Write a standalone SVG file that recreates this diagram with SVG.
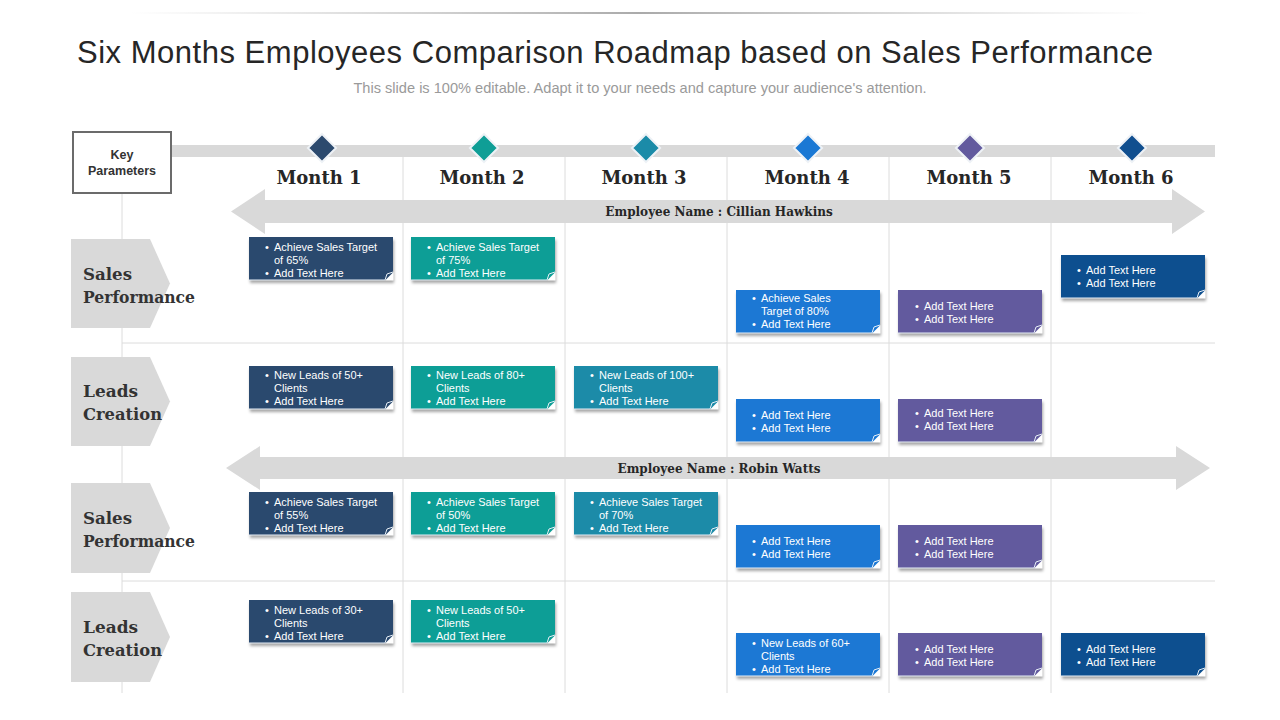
<svg xmlns="http://www.w3.org/2000/svg" width="1280" height="720" viewBox="0 0 1280 720">
<defs>
<linearGradient id="topline" x1="0" x2="1" y1="0" y2="0">
<stop offset="0" stop-color="#bbb" stop-opacity="0"/>
<stop offset="0.5" stop-color="#aaa" stop-opacity="1"/>
<stop offset="1" stop-color="#bbb" stop-opacity="0"/>
</linearGradient>
<filter id="sh" x="-10%" y="-20%" width="125%" height="160%">
<feDropShadow dx="1" dy="3" stdDeviation="1.5" flood-color="#000" flood-opacity="0.35"/>
</filter>
</defs>
<style>
.title{font-family:"Liberation Sans",Arial,sans-serif;font-size:31px;fill:#262626}
.sub{font-family:"Liberation Sans",Arial,sans-serif;font-size:14.6px;fill:#9a9a9a}
.key{font-family:"Liberation Sans",Arial,sans-serif;font-size:12.5px;font-weight:bold;fill:#333}
.month{font-family:"DejaVu Serif",serif;font-size:18px;font-weight:bold;fill:#262626}
.lab{font-family:"DejaVu Serif",serif;font-size:17.5px;font-weight:bold;fill:#333}
.emp{font-family:"DejaVu Serif",serif;font-size:12px;font-weight:bold;fill:#262626}
.bt{font-family:"Liberation Sans",Arial,sans-serif;font-size:11px;fill:#fff}
.grid{stroke:#dcdcdc;stroke-width:1;fill:none}
.gray{fill:#d9d9d9}
.box{filter:url(#sh)}
.hl{stroke:#e6eef6;stroke-width:1.2}
.fold{fill:#fff}
.curl{fill:none;stroke:#e6eef6;stroke-width:1}
.dia{stroke:#eef2f6;stroke-width:2}
</style>

<rect width="1280" height="720" fill="#fff"/>
<rect x="130" y="12" width="1020" height="2" fill="url(#topline)"/>

<text class="title" x="615" y="63" text-anchor="middle" textLength="1076" lengthAdjust="spacing">Six Months Employees Comparison Roadmap based on Sales Performance</text>
<text class="sub" x="640" y="93" text-anchor="middle">This slide is 100% editable. Adapt it to your needs and capture your audience's attention.</text>

<g id="grid">
<rect class="gray" x="171" y="145" width="1044" height="12"/>
<line class="grid" x1="122" y1="193" x2="122" y2="693"/>
<line class="grid" x1="403" y1="157" x2="403" y2="693"/>
<line class="grid" x1="565" y1="157" x2="565" y2="693"/>
<line class="grid" x1="727" y1="157" x2="727" y2="693"/>
<line class="grid" x1="889" y1="157" x2="889" y2="693"/>
<line class="grid" x1="1051" y1="157" x2="1051" y2="693"/>
<line class="grid" x1="122" y1="343" x2="1215" y2="343"/>
<line class="grid" x1="122" y1="581" x2="1215" y2="581"/>
</g>

<g id="key">
<rect x="73" y="132" width="98" height="61" fill="#fff" stroke="#6b6b6b" stroke-width="2"/>
<text class="key" x="122" y="159" text-anchor="middle">Key</text>
<text class="key" x="122" y="175" text-anchor="middle">Parameters</text>
</g>

<g id="months">
<polygon class="dia" points="322,134 336,148 322,162 308,148" fill="#2c4a6e"/>
<polygon class="dia" points="484,134 498,148 484,162 470,148" fill="#0f9e96"/>
<polygon class="dia" points="646,134 660,148 646,162 632,148" fill="#1b8ba8"/>
<polygon class="dia" points="808,134 822,148 808,162 794,148" fill="#1a78d4"/>
<polygon class="dia" points="970,134 984,148 970,162 956,148" fill="#625a9e"/>
<polygon class="dia" points="1132,134 1146,148 1132,162 1118,148" fill="#114f8f"/>
<text class="month" x="319" y="184" text-anchor="middle">Month 1</text>
<text class="month" x="482" y="184" text-anchor="middle">Month 2</text>
<text class="month" x="644" y="184" text-anchor="middle">Month 3</text>
<text class="month" x="807" y="184" text-anchor="middle">Month 4</text>
<text class="month" x="969" y="184" text-anchor="middle">Month 5</text>
<text class="month" x="1131" y="184" text-anchor="middle">Month 6</text>
</g>

<g id="connectors">
<polygon class="gray" points="231,211.5 265,189 265,200 1172,200 1172,189 1205,211.5 1172,234 1172,223 265,223 265,234"/>
<polygon class="gray" points="226,468 260,446 260,457 1176,457 1176,446 1210,468 1176,490 1176,479 260,479 260,490"/>
<text class="emp" x="719" y="216" text-anchor="middle">Employee Name : Cillian Hawkins</text>
<text class="emp" x="719" y="473" text-anchor="middle">Employee Name : Robin Watts</text>
</g>

<g id="rows">
<polygon class="gray" points="71,239 150,239 170,283.5 150,328 71,328"/>
<text class="lab" x="83" y="280" textLength="49" lengthAdjust="spacingAndGlyphs">Sales</text>
<text class="lab" x="83" y="303" textLength="112" lengthAdjust="spacingAndGlyphs">Performance</text>
<polygon class="gray" points="71,357 150,357 170,401.5 150,446 71,446"/>
<text class="lab" x="83" y="397" textLength="55" lengthAdjust="spacingAndGlyphs">Leads</text>
<text class="lab" x="83" y="420" textLength="79" lengthAdjust="spacingAndGlyphs">Creation</text>
<polygon class="gray" points="71,483 150,483 170,528 150,573 71,573"/>
<text class="lab" x="83" y="524" textLength="49" lengthAdjust="spacingAndGlyphs">Sales</text>
<text class="lab" x="83" y="547" textLength="112" lengthAdjust="spacingAndGlyphs">Performance</text>
<polygon class="gray" points="71,592 150,592 170,637 150,682 71,682"/>
<text class="lab" x="83" y="633" textLength="55" lengthAdjust="spacingAndGlyphs">Leads</text>
<text class="lab" x="83" y="656" textLength="79" lengthAdjust="spacingAndGlyphs">Creation</text>
</g>

<!-- Row 1 -->
<g id="r1m1" transform="translate(249,237)">
<rect class="box" width="144" height="43" fill="#2c4a6e"/><line class="hl" x1="0" y1="43" x2="136" y2="43"/><polygon class="fold" points="136,43.5 144.5,35 144.5,43.5"/><path class="curl" d="M136 43 L138 37 L144 35"/>
<text class="bt" x="16" y="14">•</text><text class="bt" x="25" y="14">Achieve Sales Target</text>
<text class="bt" x="25" y="27">of 65%</text>
<text class="bt" x="16" y="40">•</text><text class="bt" x="25" y="40">Add Text Here</text>
</g>
<g id="r1m2" transform="translate(411,237)">
<rect class="box" width="144" height="43" fill="#0f9e96"/><line class="hl" x1="0" y1="43" x2="136" y2="43"/><polygon class="fold" points="136,43.5 144.5,35 144.5,43.5"/><path class="curl" d="M136 43 L138 37 L144 35"/>
<text class="bt" x="16" y="14">•</text><text class="bt" x="25" y="14">Achieve Sales Target</text>
<text class="bt" x="25" y="27">of 75%</text>
<text class="bt" x="16" y="40">•</text><text class="bt" x="25" y="40">Add Text Here</text>
</g>
<g id="r1m4" transform="translate(736,290)">
<rect class="box" width="144" height="43" fill="#1a78d4"/><line class="hl" x1="0" y1="43" x2="136" y2="43"/><polygon class="fold" points="136,43.5 144.5,35 144.5,43.5"/><path class="curl" d="M136 43 L138 37 L144 35"/>
<text class="bt" x="16" y="12">•</text><text class="bt" x="25" y="12">Achieve Sales</text>
<text class="bt" x="25" y="25">Target of 80%</text>
<text class="bt" x="16" y="38">•</text><text class="bt" x="25" y="38">Add Text Here</text>
</g>
<g id="r1m5" transform="translate(898,290)">
<rect class="box" width="144" height="43" fill="#625a9e"/><line class="hl" x1="0" y1="43" x2="136" y2="43"/><polygon class="fold" points="136,43.5 144.5,35 144.5,43.5"/><path class="curl" d="M136 43 L138 37 L144 35"/>
<text class="bt" x="17" y="20">•</text><text class="bt" x="26" y="20">Add Text Here</text>
<text class="bt" x="17" y="33">•</text><text class="bt" x="26" y="33">Add Text Here</text>
</g>
<g id="r1m6" transform="translate(1061,255)">
<rect class="box" width="144" height="43" fill="#114f8f"/><line class="hl" x1="0" y1="43" x2="136" y2="43"/><polygon class="fold" points="136,43.5 144.5,35 144.5,43.5"/><path class="curl" d="M136 43 L138 37 L144 35"/>
<text class="bt" x="16" y="19">•</text><text class="bt" x="25" y="19">Add Text Here</text>
<text class="bt" x="16" y="32">•</text><text class="bt" x="25" y="32">Add Text Here</text>
</g>

<!-- Row 2 -->
<g id="r2m1" transform="translate(249,366)">
<rect class="box" width="144" height="43" fill="#2c4a6e"/><line class="hl" x1="0" y1="43" x2="136" y2="43"/><polygon class="fold" points="136,43.5 144.5,35 144.5,43.5"/><path class="curl" d="M136 43 L138 37 L144 35"/>
<text class="bt" x="16" y="13">•</text><text class="bt" x="25" y="13">New Leads of 50+</text>
<text class="bt" x="25" y="26">Clients</text>
<text class="bt" x="16" y="39">•</text><text class="bt" x="25" y="39">Add Text Here</text>
</g>
<g id="r2m2" transform="translate(411,366)">
<rect class="box" width="144" height="43" fill="#0f9e96"/><line class="hl" x1="0" y1="43" x2="136" y2="43"/><polygon class="fold" points="136,43.5 144.5,35 144.5,43.5"/><path class="curl" d="M136 43 L138 37 L144 35"/>
<text class="bt" x="16" y="13">•</text><text class="bt" x="25" y="13">New Leads of 80+</text>
<text class="bt" x="25" y="26">Clients</text>
<text class="bt" x="16" y="39">•</text><text class="bt" x="25" y="39">Add Text Here</text>
</g>
<g id="r2m3" transform="translate(574,366)">
<rect class="box" width="144" height="43" fill="#1b8ba8"/><line class="hl" x1="0" y1="43" x2="136" y2="43"/><polygon class="fold" points="136,43.5 144.5,35 144.5,43.5"/><path class="curl" d="M136 43 L138 37 L144 35"/>
<text class="bt" x="16" y="13">•</text><text class="bt" x="25" y="13">New Leads of 100+</text>
<text class="bt" x="25" y="26">Clients</text>
<text class="bt" x="16" y="39">•</text><text class="bt" x="25" y="39">Add Text Here</text>
</g>
<g id="r2m4" transform="translate(736,399)">
<rect class="box" width="144" height="43" fill="#1a78d4"/><line class="hl" x1="0" y1="43" x2="136" y2="43"/><polygon class="fold" points="136,43.5 144.5,35 144.5,43.5"/><path class="curl" d="M136 43 L138 37 L144 35"/>
<text class="bt" x="16" y="20">•</text><text class="bt" x="25" y="20">Add Text Here</text>
<text class="bt" x="16" y="33">•</text><text class="bt" x="25" y="33">Add Text Here</text>
</g>
<g id="r2m5" transform="translate(898,399)">
<rect class="box" width="144" height="43" fill="#625a9e"/><line class="hl" x1="0" y1="43" x2="136" y2="43"/><polygon class="fold" points="136,43.5 144.5,35 144.5,43.5"/><path class="curl" d="M136 43 L138 37 L144 35"/>
<text class="bt" x="17" y="18">•</text><text class="bt" x="26" y="18">Add Text Here</text>
<text class="bt" x="17" y="31">•</text><text class="bt" x="26" y="31">Add Text Here</text>
</g>

<!-- Row 3 -->
<g id="r3m1" transform="translate(249,492)">
<rect class="box" width="144" height="43" fill="#2c4a6e"/><line class="hl" x1="0" y1="43" x2="136" y2="43"/><polygon class="fold" points="136,43.5 144.5,35 144.5,43.5"/><path class="curl" d="M136 43 L138 37 L144 35"/>
<text class="bt" x="16" y="14">•</text><text class="bt" x="25" y="14">Achieve Sales Target</text>
<text class="bt" x="25" y="27">of 55%</text>
<text class="bt" x="16" y="40">•</text><text class="bt" x="25" y="40">Add Text Here</text>
</g>
<g id="r3m2" transform="translate(411,492)">
<rect class="box" width="144" height="43" fill="#0f9e96"/><line class="hl" x1="0" y1="43" x2="136" y2="43"/><polygon class="fold" points="136,43.5 144.5,35 144.5,43.5"/><path class="curl" d="M136 43 L138 37 L144 35"/>
<text class="bt" x="16" y="14">•</text><text class="bt" x="25" y="14">Achieve Sales Target</text>
<text class="bt" x="25" y="27">of 50%</text>
<text class="bt" x="16" y="40">•</text><text class="bt" x="25" y="40">Add Text Here</text>
</g>
<g id="r3m3" transform="translate(574,492)">
<rect class="box" width="144" height="43" fill="#1b8ba8"/><line class="hl" x1="0" y1="43" x2="136" y2="43"/><polygon class="fold" points="136,43.5 144.5,35 144.5,43.5"/><path class="curl" d="M136 43 L138 37 L144 35"/>
<text class="bt" x="16" y="14">•</text><text class="bt" x="25" y="14">Achieve Sales Target</text>
<text class="bt" x="25" y="27">of 70%</text>
<text class="bt" x="16" y="40">•</text><text class="bt" x="25" y="40">Add Text Here</text>
</g>
<g id="r3m4" transform="translate(736,525)">
<rect class="box" width="144" height="43" fill="#1a78d4"/><line class="hl" x1="0" y1="43" x2="136" y2="43"/><polygon class="fold" points="136,43.5 144.5,35 144.5,43.5"/><path class="curl" d="M136 43 L138 37 L144 35"/>
<text class="bt" x="16" y="20">•</text><text class="bt" x="25" y="20">Add Text Here</text>
<text class="bt" x="16" y="33">•</text><text class="bt" x="25" y="33">Add Text Here</text>
</g>
<g id="r3m5" transform="translate(898,525)">
<rect class="box" width="144" height="43" fill="#625a9e"/><line class="hl" x1="0" y1="43" x2="136" y2="43"/><polygon class="fold" points="136,43.5 144.5,35 144.5,43.5"/><path class="curl" d="M136 43 L138 37 L144 35"/>
<text class="bt" x="17" y="20">•</text><text class="bt" x="26" y="20">Add Text Here</text>
<text class="bt" x="17" y="33">•</text><text class="bt" x="26" y="33">Add Text Here</text>
</g>

<!-- Row 4 -->
<g id="r4m1" transform="translate(249,600)">
<rect class="box" width="144" height="43" fill="#2c4a6e"/><line class="hl" x1="0" y1="43" x2="136" y2="43"/><polygon class="fold" points="136,43.5 144.5,35 144.5,43.5"/><path class="curl" d="M136 43 L138 37 L144 35"/>
<text class="bt" x="16" y="14">•</text><text class="bt" x="25" y="14">New Leads of 30+</text>
<text class="bt" x="25" y="27">Clients</text>
<text class="bt" x="16" y="40">•</text><text class="bt" x="25" y="40">Add Text Here</text>
</g>
<g id="r4m2" transform="translate(411,600)">
<rect class="box" width="144" height="43" fill="#0f9e96"/><line class="hl" x1="0" y1="43" x2="136" y2="43"/><polygon class="fold" points="136,43.5 144.5,35 144.5,43.5"/><path class="curl" d="M136 43 L138 37 L144 35"/>
<text class="bt" x="16" y="14">•</text><text class="bt" x="25" y="14">New Leads of 50+</text>
<text class="bt" x="25" y="27">Clients</text>
<text class="bt" x="16" y="40">•</text><text class="bt" x="25" y="40">Add Text Here</text>
</g>
<g id="r4m4" transform="translate(736,633)">
<rect class="box" width="144" height="43" fill="#1a78d4"/><line class="hl" x1="0" y1="43" x2="136" y2="43"/><polygon class="fold" points="136,43.5 144.5,35 144.5,43.5"/><path class="curl" d="M136 43 L138 37 L144 35"/>
<text class="bt" x="16" y="14">•</text><text class="bt" x="25" y="14">New Leads of 60+</text>
<text class="bt" x="25" y="27">Clients</text>
<text class="bt" x="16" y="40">•</text><text class="bt" x="25" y="40">Add Text Here</text>
</g>
<g id="r4m5" transform="translate(898,633)">
<rect class="box" width="144" height="43" fill="#625a9e"/><line class="hl" x1="0" y1="43" x2="136" y2="43"/><polygon class="fold" points="136,43.5 144.5,35 144.5,43.5"/><path class="curl" d="M136 43 L138 37 L144 35"/>
<text class="bt" x="17" y="20">•</text><text class="bt" x="26" y="20">Add Text Here</text>
<text class="bt" x="17" y="33">•</text><text class="bt" x="26" y="33">Add Text Here</text>
</g>
<g id="r4m6" transform="translate(1061,633)">
<rect class="box" width="144" height="43" fill="#114f8f"/><line class="hl" x1="0" y1="43" x2="136" y2="43"/><polygon class="fold" points="136,43.5 144.5,35 144.5,43.5"/><path class="curl" d="M136 43 L138 37 L144 35"/>
<text class="bt" x="16" y="20">•</text><text class="bt" x="25" y="20">Add Text Here</text>
<text class="bt" x="16" y="33">•</text><text class="bt" x="25" y="33">Add Text Here</text>
</g>
</svg>
